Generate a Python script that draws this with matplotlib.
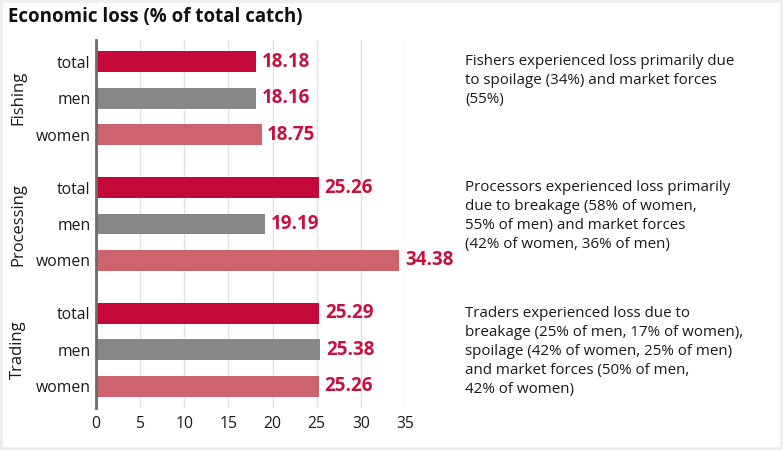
import matplotlib
matplotlib.use("Agg")
import matplotlib.pyplot as plt
from matplotlib.patches import Rectangle

plt.rcParams["font.family"] = ["Open Sans", "DejaVu Sans"]

groups = ["Fishing", "Processing", "Trading"]
rows = ["total", "men", "women"]
values = {
    "Fishing": [18.18, 18.16, 18.75],
    "Processing": [25.26, 19.19, 34.38],
    "Trading": [25.29, 25.38, 25.26],
}
notes = [
    "Fishers experienced loss primarily due\nto spoilage (34%) and market forces\n(55%)",
    "Processors experienced loss primarily\ndue to breakage (58% of women,\n55% of men) and market forces\n(42% of women, 36% of men)",
    "Traders experienced loss due to\nbreakage (25% of men, 17% of women),\nspoilage (42% of women, 25% of men)\nand market forces (50% of men,\n42% of women)",
]
colors = ["#c4093a", "#878787", "#cd636d"]
label_color = "#c8103e"
xticks = [0, 5, 10, 15, 20, 25, 30, 35]

fig = plt.figure(figsize=(7.83, 4.5), dpi=100)
fig.patch.set_facecolor("white")
# light frame around the figure
fig.patches.append(Rectangle((0.0, 0.0), 1.0, 1.0, transform=fig.transFigure,
                             fill=False, edgecolor="#eeeeee", lw=4))

ax = fig.add_axes([0.1226, 0.0933, 0.3946, 0.8178])
gap = 3.45
ypos, tick_labels = [], []
for g, grp in enumerate(groups):
    for i, r in enumerate(rows):
        y = g * gap + i
        v = values[grp][i]
        ax.barh(y, v, height=0.57, color=colors[i], zorder=3)
        ax.text(v + 0.65, y, f"{v:.2f}", va="center", ha="left", color=label_color,
                fontsize=13.5, fontweight="bold", clip_on=False, zorder=4)
        ypos.append(y)
        tick_labels.append(r)
    ax.text(-0.252, (g * gap + 1), grp, transform=ax.get_yaxis_transform(),
            rotation=90, va="center", ha="center", fontsize=12, color="#1a1a1a")

ax.set_ylim(2 * gap + 2 + 0.6, -0.6)
ax.set_xlim(0, 35)
ax.set_yticks(ypos)
ax.set_yticklabels(tick_labels, fontsize=11.3, color="#1a1a1a")
ax.set_xticks(xticks)
ax.set_xticklabels([str(t) for t in xticks], fontsize=11.3, color="#1a1a1a")
ax.tick_params(axis="y", length=0, pad=4)
ax.tick_params(axis="x", length=0, pad=6)
ax.grid(axis="x", color="#e2e2e2", lw=1, zorder=0)
for s in ["top", "right", "bottom"]:
    ax.spines[s].set_visible(False)
ax.spines["left"].set_color("#6b6b6b")
ax.spines["left"].set_linewidth(2)
ax.spines["left"].set_zorder(5)

fig.text(0.010, 0.962, "Economic loss (% of total catch)", fontsize=13.5, fontweight="bold",
         va="center", ha="left", color="#111111")

note_tops = [0.88, 0.60, 0.32]
for txt, yt in zip(notes, note_tops):
    fig.text(0.594, yt, txt, fontsize=10.9, va="top", ha="left", color="#1a1a1a",
             linespacing=1.37)

fig.savefig("out.png", dpi=100)
